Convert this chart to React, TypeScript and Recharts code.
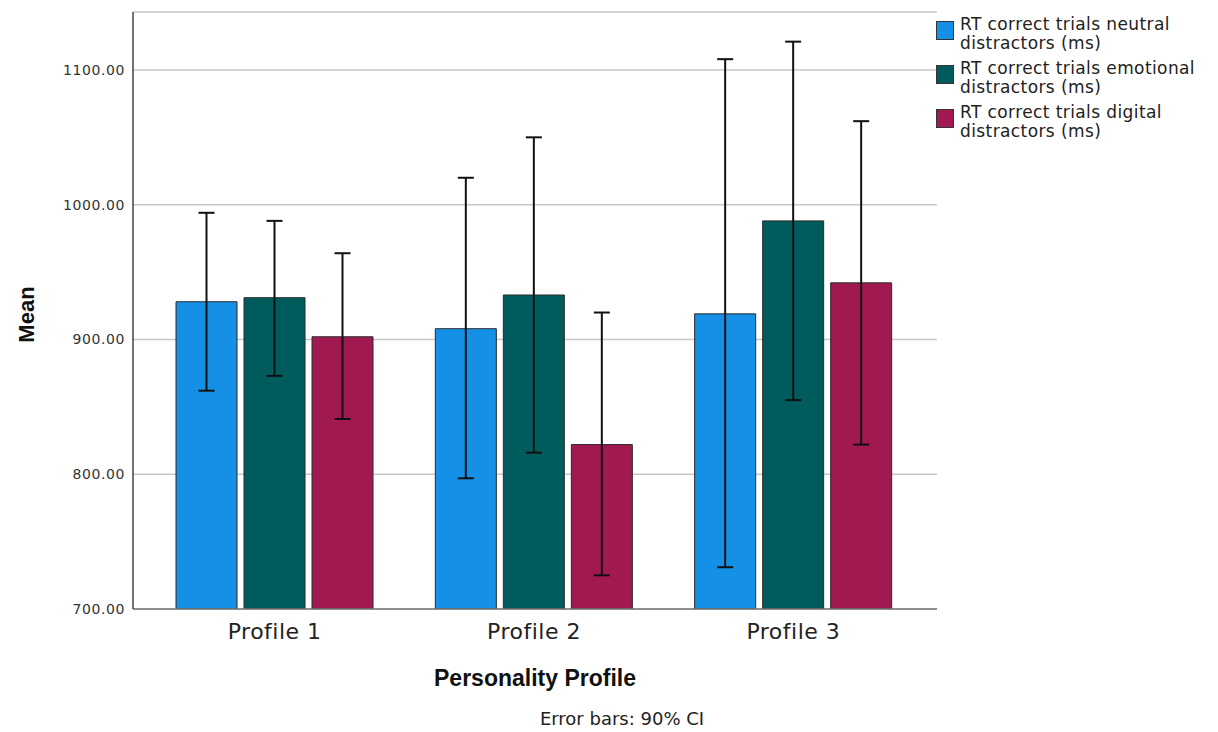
import React from "react";
import {
  BarChart, Bar, XAxis, YAxis, CartesianGrid, ErrorBar,
} from "recharts";

const categories = ["Profile 1", "Profile 2", "Profile 3"];

const neutralMean = [928, 908, 919];
const neutralLow = [862, 797, 731];
const neutralHigh = [994, 1020, 1108];

const emotionalMean = [931, 933, 988];
const emotionalLow = [873, 816, 855];
const emotionalHigh = [988, 1050, 1121];

const digitalMean = [902, 822, 942];
const digitalLow = [841, 725, 822];
const digitalHigh = [964, 920, 1062];

const yTicks = [700, 800, 900, 1000, 1100];

const series = [
  { key: "neutral", name: "RT correct trials neutral distractors (ms)", color: "#1490e6" },
  { key: "emotional", name: "RT correct trials emotional distractors (ms)", color: "#005c5c" },
  { key: "digital", name: "RT correct trials digital distractors (ms)", color: "#a01950" },
];

const data = categories.map((c, i) => ({
  name: c,
  neutral: neutralMean[i],
  neutralErr: [neutralMean[i] - neutralLow[i], neutralHigh[i] - neutralMean[i]],
  emotional: emotionalMean[i],
  emotionalErr: [emotionalMean[i] - emotionalLow[i], emotionalHigh[i] - emotionalMean[i]],
  digital: digitalMean[i],
  digitalErr: [digitalMean[i] - digitalLow[i], digitalHigh[i] - digitalMean[i]],
}));

// legend sits outside the plot, like the SPSS output
const LegendBox = () => (
  <div
    style={{
      position: "absolute", left: 936, top: 15, width: 282,
      fontFamily: "DejaVu Sans", fontSize: 17, letterSpacing: 0.4, color: "#222", lineHeight: "19px",
    }}
  >
    {series.map((s) => {
      const parts = s.name.split(" distractors");
      return (
        <div key={s.key} style={{ display: "flex", alignItems: "flex-start", height: 44 }}>
          <div
            style={{
              width: 16, height: 17, background: s.color, border: "1.5px solid #333",
              marginTop: 6, marginRight: 6, flexShrink: 0,
            }}
          />
          <div>
            <div>{parts[0]}</div>
            <div>distractors{parts[1]}</div>
          </div>
        </div>
      );
    })}
  </div>
);

const MeanLabel = (props: any) => {
  const vb = props.viewBox || { x: 0, y: 0, height: 0 };
  const cx = vb.x + 26;
  const cy = vb.y + vb.height / 2 + 4;
  return (
    <text
      x={cx}
      y={cy}
      transform={`rotate(-90 ${cx} ${cy})`}
      textAnchor="middle"
      dominantBaseline="central"
      fill="#111"
      fontSize={22}
      fontWeight="bold"
      fontFamily="Liberation Sans"
    >
      Mean
    </text>
  );
};

export default function App() {
  return (
    <div style={{ position: "absolute", left: 0, top: 0, width: 1218, height: 732, background: "#fff" }}>
      <BarChart
        width={1218}
        height={732}
        data={data}
        margin={{ top: 12, right: 281, left: 0, bottom: 0 }}
        barSize={61}
        barGap={7}
      >
        <CartesianGrid vertical={false} stroke="#c8c8c8" strokeWidth={1.5} />
        <XAxis
          dataKey="name"
          height={123}
          padding={{ left: 12, right: 14 }}
          tickLine={false}
          tickMargin={8}
          axisLine={{ stroke: "#777", strokeWidth: 1.5 }}
          tick={{ fill: "#222", fontSize: 22, fontFamily: "DejaVu Sans", letterSpacing: 0.5 }}
          label={{
            value: "Personality Profile",
            position: "insideBottom",
            offset: 46,
            fill: "#111",
            fontSize: 23,
            fontWeight: "bold",
            fontFamily: "Liberation Sans",
          }}
        />
        <YAxis
          width={133}
          domain={[700, 1143]}
          ticks={yTicks}
          allowDataOverflow
          tickLine={false}
          axisLine={{ stroke: "#444", strokeWidth: 1.5 }}
          tickFormatter={(v: number) => v.toFixed(2)}
          tick={{ fill: "#333", fontSize: 14, fontFamily: "DejaVu Sans", letterSpacing: 0.6 }}
          label={<MeanLabel />}
        />
        {series.map((s) => (
          <Bar
            key={s.key}
            dataKey={s.key}
            name={s.name}
            fill={s.color}
            stroke="#2a2a2a"
            strokeWidth={1}
            isAnimationActive={false}
          >
            <ErrorBar dataKey={s.key + "Err"} width={8} stroke="#111" strokeWidth={2} />
          </Bar>
        ))}
      </BarChart>
      <LegendBox />
      <div
        style={{
          position: "absolute", left: 472, top: 708, width: 300, textAlign: "center",
          fontFamily: "DejaVu Sans", fontSize: 18, color: "#222",
        }}
      >
        Error bars: 90% CI
      </div>
    </div>
  );
}
